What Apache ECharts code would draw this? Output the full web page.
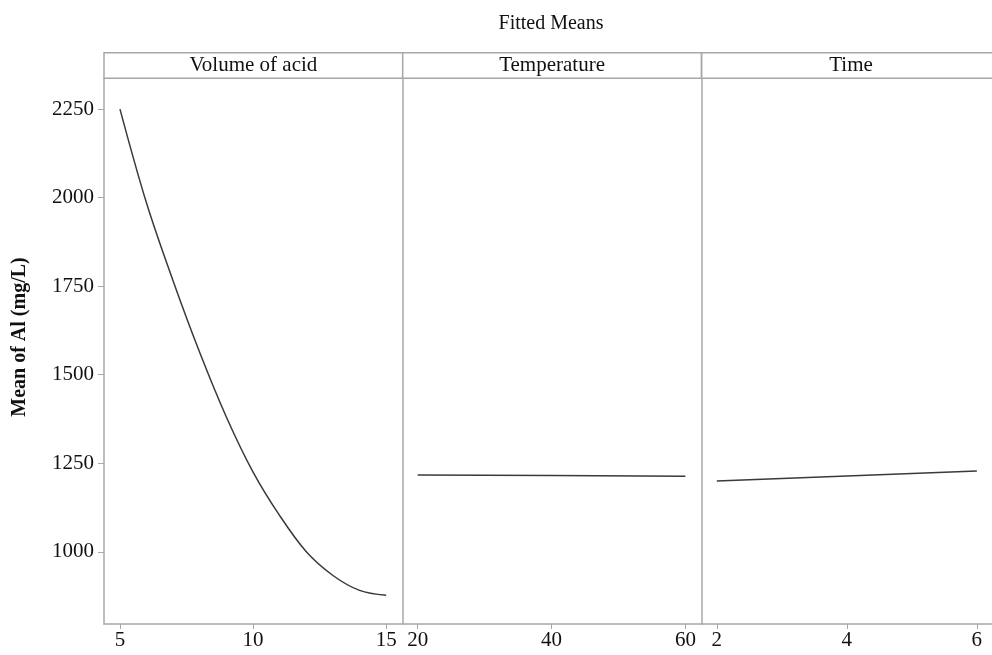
<!DOCTYPE html>
<html>
<head>
<meta charset="utf-8">
<script src="https://cdn.jsdelivr.net/npm/echarts@6/dist/echarts.min.js"></script>
<style>
    html, body { margin: 0; padding: 0; background: #fff; }
    #chart { width: 992px; height: 655px; }
</style>
</head>
<body>
<div id="chart"></div>
<script>
// fitted means
var volumeX = [5, 6, 7, 8, 9, 10, 11, 12, 13, 14, 15];
var volumeY = [2250, 1984, 1764, 1562, 1380, 1225, 1102, 1000, 933, 891, 877];
var tempX = [20, 40, 60];
var tempY = [1217, 1215, 1213];
var timeX = [2, 4, 6];
var timeY = [1200, 1214, 1228];

var panelNames = ['Volume of acid', 'Temperature', 'Time'];
var xTicks = [[5, 10, 15], [20, 40, 60], [2, 4, 6]];
var xRanges = [[4.4, 15.62], [17.76, 62.39], [1.767, 6.233]];
var yTicks = [1000, 1250, 1500, 1750, 2000, 2250];

var chart = echarts.init(document.getElementById('chart'));

var font = '"Liberation Serif", "Times New Roman", serif';
var gridLeft = [104, 402.7, 701.7];
var gridWidth = 298.7;
var plotTop = 78.3;
var plotBottom = 624;
var axisGray = '#a8a8a8';

function pairs(xs, ys) {
    return xs.map(function (x, i) { return [x, ys[i]]; });
}

var grids = [], xAxes = [], yAxes = [], series = [], graphics = [];
var seriesData = [pairs(volumeX, volumeY), pairs(tempX, tempY), pairs(timeX, timeY)];

for (var i = 0; i < 3; i++) {
    grids.push({
        left: gridLeft[i],
        top: plotTop,
        width: gridWidth,
        height: plotBottom - plotTop
    });
    xAxes.push({
        type: 'value',
        gridIndex: i,
        min: xRanges[i][0],
        max: xRanges[i][1],
        splitLine: {show: false},
        axisLine: {show: true, lineStyle: {color: axisGray, width: 1.5}},
        axisTick: {show: true, length: 5, customValues: xTicks[i], lineStyle: {color: axisGray}},
        axisLabel: {
            customValues: xTicks[i],
            color: '#111',
            fontFamily: font,
            fontSize: 21,
            margin: 6,
            formatter: function (v) { return String(v); }
        }
    });
    yAxes.push({
        type: 'value',
        gridIndex: i,
        min: 796,
        max: 2337,
        splitLine: {show: false},
        axisLine: {show: true, lineStyle: {color: axisGray, width: 1.5}},
        axisTick: {show: i === 0, length: 6, customValues: yTicks, lineStyle: {color: axisGray}},
        axisLabel: {
            show: i === 0,
            customValues: yTicks,
            color: '#111',
            fontFamily: font,
            fontSize: 21,
            margin: 10,
            formatter: function (v) { return String(v); }
        }
    });
    series.push({
        type: 'line',
        xAxisIndex: i,
        yAxisIndex: i,
        data: seriesData[i],
        smooth: i === 0 ? 0.35 : false,
        showSymbol: false,
        lineStyle: {color: '#3a3a3a', width: 1.5}
    });
    // strip header above each panel
    graphics.push({
        type: 'rect',
        shape: {x: gridLeft[i], y: 52.7, width: gridWidth, height: plotTop - 52.7},
        style: {fill: '#fff', stroke: axisGray, lineWidth: 1.5},
        z: 10
    });
    graphics.push({
        type: 'text',
        x: gridLeft[i] + gridWidth / 2,
        y: 65.5,
        style: {
            text: panelNames[i],
            fontFamily: font,
            fontSize: 21,
            fill: '#111',
            align: 'center',
            verticalAlign: 'middle'
        },
        z: 11
    });
}

// chart title, centred over the three panels
graphics.push({
    type: 'text',
    x: 551,
    y: 23.5,
    style: {
        text: 'Fitted Means',
        fontFamily: font,
        fontSize: 20,
        fill: '#111',
        align: 'center',
        verticalAlign: 'middle'
    }
});

graphics.push({
    type: 'text',
    x: 20,
    y: 337,
    rotation: Math.PI / 2,
    style: {
        text: 'Mean of Al (mg/L)',
        fontFamily: font,
        fontSize: 20,
        fontWeight: 'bold',
        fill: '#111',
        align: 'center',
        verticalAlign: 'middle'
    }
});

var option = {
    animation: false,
    backgroundColor: '#fff',
    grid: grids,
    xAxis: xAxes,
    yAxis: yAxes,
    series: series,
    graphic: graphics
};

chart.setOption(option);
</script>
</body>
</html>
